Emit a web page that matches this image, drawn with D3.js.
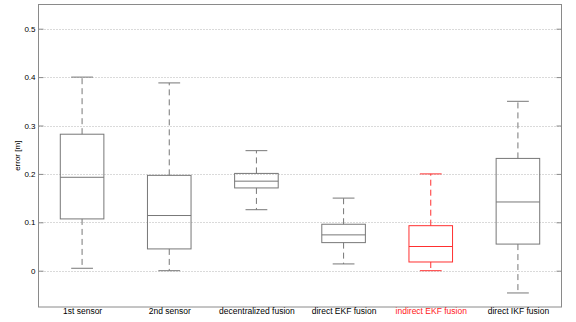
<!DOCTYPE html>
<html>
<head>
<meta charset="utf-8">
<script src="https://cdn.jsdelivr.net/npm/d3@7"></script>
<style>
  body { margin: 0; background: #fff; }
  text { font-family: "Liberation Sans", Arial, sans-serif; }
</style>
</head>
<body>
<svg></svg>
<script>
// categories and box stats
let categories = ['1st sensor', '2nd sensor', 'decentralized fusion', 'direct EKF fusion', 'indirect EKF fusion', 'direct IKF fusion']
let whiskerLow = [0.005, 0.0, 0.126, 0.014, 0.0, -0.046]
let q1 = [0.107, 0.045, 0.171, 0.058, 0.018, 0.055]
let median = [0.193, 0.114, 0.185, 0.074, 0.050, 0.142]
let q3 = [0.282, 0.197, 0.201, 0.096, 0.093, 0.232]
let whiskerHigh = [0.400, 0.388, 0.248, 0.150, 0.200, 0.350]
let highlighted = [false, false, false, false, true, false]
let yTicks = [0, 0.1, 0.2, 0.3, 0.4, 0.5]

let width = 576
let height = 322
let plotLeft = 38.5
let plotRight = 561.5
let plotTop = 4.5
let plotBottom = 307

let svg = d3.select('svg')
    .attr('width', width)
    .attr('height', height)

let boxes = categories.map((c, i) => ({
    name: c, lo: whiskerLow[i], q1: q1[i], med: median[i], q3: q3[i], hi: whiskerHigh[i], red: highlighted[i], idx: i + 1
}))

let xScale = d3.scaleLinear().domain([0.5, 6.5]).range([plotLeft, plotRight])
let yScale = d3.scaleLinear().domain([-0.075, 0.55]).range([plotBottom, plotTop])

// grid lines
svg.append('g')
    .selectAll('line')
    .data(yTicks)
    .enter()
    .append('line')
    .attr('x1', plotLeft)
    .attr('x2', plotRight)
    .attr('y1', d => Math.round(yScale(d)) + 0.5)
    .attr('y2', d => Math.round(yScale(d)) + 0.5)
    .attr('stroke', '#b4b4b4')
    .attr('stroke-width', 1)
    .attr('stroke-dasharray', '1,2')

// frame
svg.append('rect')
    .attr('x', plotLeft)
    .attr('y', plotTop)
    .attr('width', plotRight - plotLeft)
    .attr('height', plotBottom - plotTop)
    .attr('fill', 'none')
    .attr('stroke', '#8a8a8a')
    .attr('stroke-width', 1)

// y axis, ticks pointing inwards
let yAxis = d3.axisLeft(yScale)
    .tickValues(yTicks)
    .tickSizeInner(-5)
    .tickSizeOuter(0)
    .tickPadding(3)
    .tickFormat(d => d === 0 ? '0' : d3.format('.1f')(d))

let yg = svg.append('g')
    .attr('id', 'y-axis')
    .attr('transform', 'translate(' + plotLeft + ',0)')
    .call(yAxis)
yg.select('.domain').remove()
yg.selectAll('line').attr('stroke', '#8a8a8a')
yg.selectAll('text').attr('font-size', 8).attr('fill', '#000')

let yAxisRight = d3.axisRight(yScale)
    .tickValues(yTicks)
    .tickSizeInner(-5)
    .tickSizeOuter(0)
    .tickFormat('')
let yr = svg.append('g')
    .attr('transform', 'translate(' + plotRight + ',0)')
    .call(yAxisRight)
yr.select('.domain').remove()
yr.selectAll('line').attr('stroke', '#8a8a8a')

// x axis labels
let xAxis = d3.axisBottom(xScale)
    .tickValues(boxes.map(b => b.idx))
    .tickSize(0)
    .tickPadding(1)
    .tickFormat((d, i) => categories[i])
let xg = svg.append('g')
    .attr('id', 'x-axis')
    .attr('transform', 'translate(0,' + plotBottom + ')')
    .call(xAxis)
xg.select('.domain').remove()
xg.selectAll('text')
    .attr('font-size', 8.5)
    .attr('fill', (d, i) => highlighted[i] ? '#ff2020' : '#000')

// y label
svg.append('text')
    .attr('transform', 'translate(20,' + yScale(0.2375) + ') rotate(-90)')
    .attr('text-anchor', 'middle')
    .attr('font-size', 8)
    .text('error [m]')

let colorOf = b => b.red ? '#ff3030' : '#777'
let boxW = 0.25
let capW = 0.125

let g = svg.append('g')
    .selectAll('g')
    .data(boxes)
    .enter()
    .append('g')

// whiskers
g.append('line')
    .attr('x1', b => xScale(b.idx))
    .attr('x2', b => xScale(b.idx))
    .attr('y1', b => yScale(b.q3))
    .attr('y2', b => yScale(b.hi))
    .attr('stroke', colorOf)
    .attr('stroke-dasharray', '6,4')
g.append('line')
    .attr('x1', b => xScale(b.idx))
    .attr('x2', b => xScale(b.idx))
    .attr('y1', b => yScale(b.q1))
    .attr('y2', b => yScale(b.lo))
    .attr('stroke', colorOf)
    .attr('stroke-dasharray', '6,4')

// caps
g.append('line')
    .attr('x1', b => xScale(b.idx - capW))
    .attr('x2', b => xScale(b.idx + capW))
    .attr('y1', b => yScale(b.hi))
    .attr('y2', b => yScale(b.hi))
    .attr('stroke', colorOf)
g.append('line')
    .attr('x1', b => xScale(b.idx - capW))
    .attr('x2', b => xScale(b.idx + capW))
    .attr('y1', b => yScale(b.lo))
    .attr('y2', b => yScale(b.lo))
    .attr('stroke', colorOf)

// box
g.append('rect')
    .attr('x', b => xScale(b.idx - boxW))
    .attr('width', b => xScale(b.idx + boxW) - xScale(b.idx - boxW))
    .attr('y', b => yScale(b.q3))
    .attr('height', b => yScale(b.q1) - yScale(b.q3))
    .attr('fill', 'none')
    .attr('stroke', colorOf)

// median
g.append('line')
    .attr('x1', b => xScale(b.idx - boxW))
    .attr('x2', b => xScale(b.idx + boxW))
    .attr('y1', b => yScale(b.med))
    .attr('y2', b => yScale(b.med))
    .attr('stroke', colorOf)
</script>
</body>
</html>
